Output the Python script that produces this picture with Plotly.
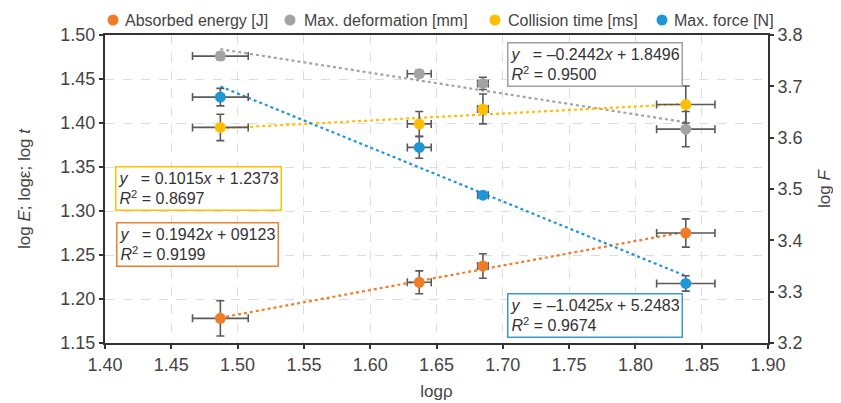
import numpy as np
import plotly.graph_objects as go

# ---- data ----
log_rho = [1.487, 1.637, 1.685, 1.838]
log_rho_err = [0.021, 0.009, 0.004, 0.022]

energy = [1.178, 1.219, 1.2375, 1.275]
energy_err = [0.020, 0.013, 0.014, 0.016]

deformation = [1.476, 1.456, 1.445, 1.393]
deformation_err = [0.004, 0.004, 0.007, 0.020]

coll_time = [1.395, 1.399, 1.416, 1.421]
coll_time_err = [0.015, 0.014, 0.017, 0.021]

max_force = [3.679, 3.581, 3.488, 3.316]
max_force_err = [0.017, 0.021, 0.006, 0.015]

names = ["Absorbed energy [J]", "Max. deformation [mm]", "Collision time [ms]", "Max. force [N]"]
colors = ["#F07C28", "#A3A3A3", "#FFBF00", "#2196D6"]

eq_texts = [
    "<i>y</i>   = 0.1942<i>x</i> + 09123<br><i>R</i><sup>2</sup> = 0.9199",
    "<i>y</i>   = \u20130.2442<i>x</i> + 1.8496<br><i>R</i><sup>2</sup> = 0.9500",
    "<i>y</i>   = 0.1015<i>x</i> + 1.2373<br><i>R</i><sup>2</sup> = 0.8697",
    "<i>y</i>   = \u20131.0425<i>x</i> + 5.2483<br><i>R</i><sup>2</sup> = 0.9674",
]

series = [
    (energy, energy_err, "y"),
    (deformation, deformation_err, "y"),
    (coll_time, coll_time_err, "y"),
    (max_force, max_force_err, "y2"),
]

fig = go.Figure()
x = np.array(log_rho)
xfit = np.array([x.min(), x.max()])
# trend lines (linear regression of the data)
for (vals, errs, ax), c in zip(series, colors):
    k, b = np.polyfit(x, np.array(vals), 1)
    fig.add_trace(go.Scatter(x=xfit, y=k * xfit + b, mode="lines", yaxis=ax,
                             line=dict(color=c, width=2.2, dash="dot"),
                             showlegend=False, hoverinfo="skip"))
for (vals, errs, ax), c, n in zip(series, colors, names):
    fig.add_trace(go.Scatter(
        x=log_rho, y=vals, mode="markers", name=n, yaxis=ax,
        marker=dict(color=c, size=11),
        error_y=dict(type="data", array=errs, color="#5a5a5a", thickness=1.6, width=4),
        error_x=dict(type="data", array=log_rho_err, color="#5a5a5a", thickness=1.6, width=4),
        showlegend=False,
    ))

# legend drawn as marker shapes + texts above the plot (positions in paper units)
leg_marker_x = [0.0121, 0.2790, 0.5882, 0.8401]
leg_text_x = [0.0272, 0.2971, 0.6048, 0.8552]
leg_y = 1.0487
for mx, tx, c, n in zip(leg_marker_x, leg_text_x, colors, names):
    fig.add_shape(type="circle", xref="paper", yref="paper",
                  xsizemode="pixel", ysizemode="pixel", xanchor=mx, yanchor=leg_y,
                  x0=-5.5, x1=5.5, y0=-5.5, y1=5.5,
                  fillcolor=c, line=dict(width=0))
    fig.add_annotation(text=n, xref="paper", yref="paper", x=tx, y=leg_y,
                       xanchor="left", yanchor="middle", showarrow=False,
                       font=dict(size=16, color="#444444"))

# equation boxes
box_pos = [(0.017, 0.393), (0.606, 0.977), (0.015, 0.575), (0.606, 0.162)]
box_border = ["#ED7D31", "#A0A0A0", "#FFC000", "#3A9AD9"]
for t, (bx, by), bc in zip(eq_texts, box_pos, box_border):
    fig.add_annotation(text=t, xref="paper", yref="paper", x=bx, y=by,
                       xanchor="left", yanchor="top", align="left", showarrow=False,
                       font=dict(size=16, color="#333333"),
                       bordercolor=bc, borderwidth=1.5, borderpad=2, bgcolor="white")

axis_common = dict(showline=True, linecolor="#333333", linewidth=2,
                   ticks="outside", ticklen=4, tickwidth=2, tickcolor="#333333",
                   tickfont=dict(size=18, color="#444444"), automargin=True)

fig.update_layout(
    width=833, height=395,
    margin=dict(l=97, r=73, t=27, b=60, autoexpand=False),
    paper_bgcolor="white", plot_bgcolor="white",
    showlegend=False,
    font=dict(family="Liberation Sans, Arial, sans-serif", color="#444444"),
    xaxis=dict(range=[1.40, 1.90], dtick=0.05, tickformat=".2f", mirror=True,
               showgrid=True, gridcolor="#DDDDDD", griddash="dash", gridwidth=1,
               title=dict(text="logρ", font=dict(size=17), standoff=12),
               zeroline=False, **axis_common),
    yaxis=dict(range=[1.15, 1.50], dtick=0.05, tickformat=".2f",
               showgrid=True, gridcolor="#DDDDDD", griddash="dash", gridwidth=1,
               title=dict(text="log <i>E</i>; logε; log <i>t</i>", font=dict(size=17), standoff=25),
               zeroline=False, **axis_common),
    yaxis2=dict(range=[3.2, 3.8], dtick=0.1, tickformat=".1f", overlaying="y", side="right",
                showgrid=False, zeroline=False,
                title=dict(text="log <i>F</i>", font=dict(size=17), standoff=16),
                **axis_common),
)

fig.write_html("out.html")
